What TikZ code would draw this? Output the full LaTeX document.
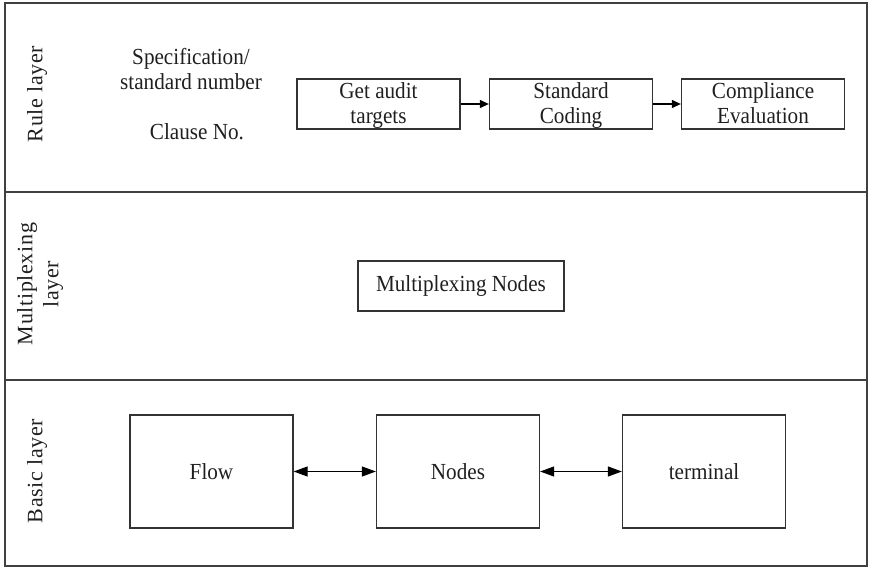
\documentclass[tikz,border=0pt]{standalone}
\usepackage{fontspec}
\setmainfont{Liberation Serif}[FakeStretch=0.92]
\newfontfamily\layerfont[LetterSpace=3]{Liberation Serif}
\usetikzlibrary{arrows.meta}

\newcommand{\topstrut}{\rule{0pt}{19pt}}
\newcommand{\botstrut}{\rule[-4pt]{0pt}{4pt}}

\begin{document}
\begin{tikzpicture}[x=1pt, y=-1pt,
      every node/.style={font=\fontsize{23}{25}\selectfont, text=black!88, align=center, inner sep=0pt},
      box/.style={draw=black!80, line width=1.3pt, minimum height=50pt, minimum width=163pt},
      bigbox/.style={draw=black!80, line width=1.3pt, minimum height=113pt, minimum width=163pt},
      layer/.style={rotate=90, font=\layerfont\fontsize{22}{26}\selectfont},
      sep/.style={line width=2pt, draw=black!75},
      flowarrow/.style={line width=1.2pt, -{Triangle[length=9pt, width=8pt]}},
      linkarrow/.style={line width=1.2pt, {Triangle[length=14pt, width=10pt]}-{Triangle[length=14pt, width=10pt]}}]

    \useasboundingbox (0,0) rectangle (870,569);

    % 1. Moldura e separação das camadas
    \draw [sep, line width=1.6pt] (5,3) rectangle (867,566);
    \draw [sep] (5,192) -- (867,192);
    \draw [sep] (5,380) -- (867,380);

    \node [layer] (rule) at (37,94) {Rule layer};
    \node [layer] (mux) at (40,284) {Multiplexing\\layer};
    \node [layer] (basic) at (37,471) {Basic layer};

    % 2. Camada de regras
    \node (spec) at (191,69) {Specification/\\standard number};
    \node (clause) at (197,132) {Clause No.};

    \node [box] (get) at (378.5,104) {\topstrut Get audit\\targets\botstrut};
    \node [box] (coding) at (571,104) {\topstrut Standard\\Coding\botstrut};
    \node [box] (eval) at (763,104) {\topstrut Compliance\\Evaluation\botstrut};

    \draw [flowarrow] (get) -- (coding);
    \draw [flowarrow] (coding) -- (eval);

    % 3. Camada de multiplexação
    \node [box, minimum width=206pt] (muxnodes) at (461,286) {Multiplexing Nodes};

    % 4. Camada básica
    \node [bigbox] (flow) at (211.5,471.5) {Flow};
    \node [bigbox] (nodes) at (458,471.5) {Nodes};
    \node [bigbox] (terminal) at (704,471.5) {terminal};

    \draw [linkarrow] (flow) -- (nodes);
    \draw [linkarrow] (nodes) -- (terminal);

\end{tikzpicture}
\end{document}
